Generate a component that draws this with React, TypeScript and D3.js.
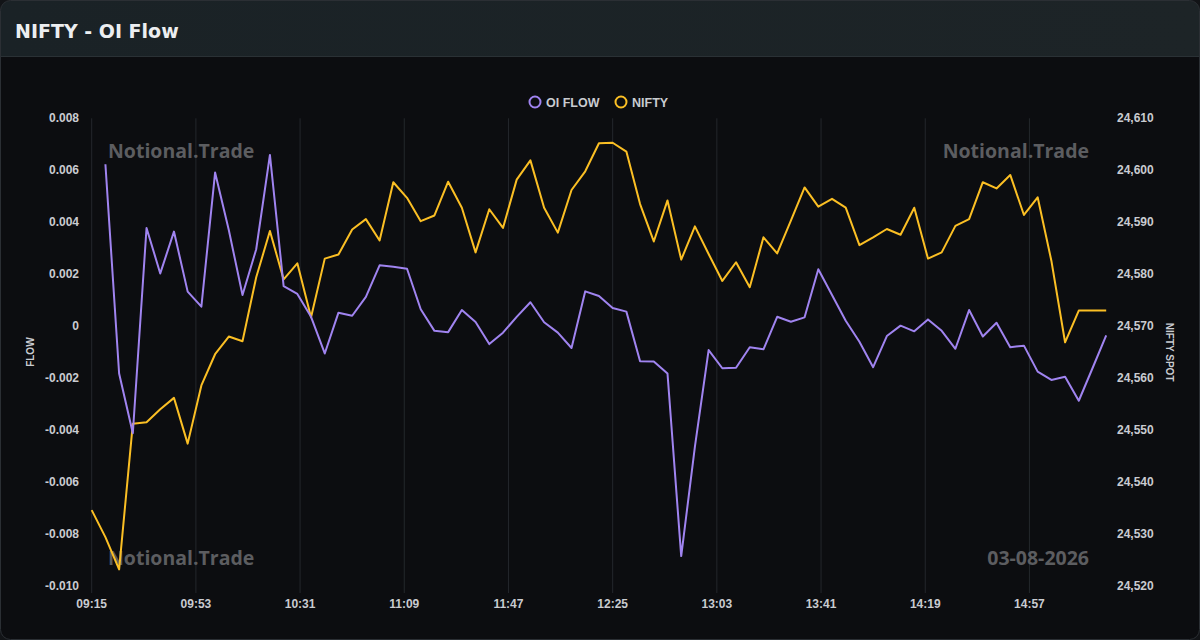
import React from "react";
import * as d3 from "d3";

const times = [
  "09:15","09:20","09:25","09:30","09:35","09:40","09:45","09:50","09:55","10:00",
  "10:05","10:10","10:15","10:20","10:25","10:30","10:35","10:40","10:45","10:50",
  "10:55","11:00","11:05","11:10","11:15","11:20","11:25","11:30","11:35","11:40",
  "11:45","11:50","11:55","12:00","12:05","12:10","12:15","12:20","12:25","12:30",
  "12:35","12:40","12:45","12:50","12:55","13:00","13:05","13:10","13:15","13:20",
  "13:25","13:30","13:35","13:40","13:45","13:50","13:55","14:00","14:05","14:10",
  "14:15","14:20","14:25","14:30","14:35","14:40","14:45","14:50","14:55","15:00",
  "15:05","15:10","15:15","15:20","15:25",
];

const oiFlow: (number | null)[] = [
  null, 0.00623, -0.00182, -0.00412, 0.00378, 0.00203, 0.00364, 0.00133, 0.00075, 0.00591,
  0.0037, 0.0012, 0.00296, 0.00659, 0.00154, 0.00124, 0.00036, -0.00105, 0.00052, 0.0004,
  0.00113, 0.00234, 0.00229, 0.00221, 0.00065, -0.00018, -0.00023, 0.00062, 0.00016, -0.00069,
  -0.00025, 0.00036, 0.00092, 0.00015, -0.00025, -0.00084, 0.00134, 0.00116, 0.0007, 0.00056,
  -0.00135, -0.00136, -0.00182, -0.00885, -0.00464, -0.00092, -0.00162, -0.0016, -0.00081, -0.00089,
  0.00036, 0.00017, 0.00034, 0.00219, 0.0012, 0.00021, -0.0006, -0.00158, -0.00038, 0.00002,
  -0.0002, 0.00026, -0.00018, -0.00087, 0.00062, -0.0004, 0.00013, -0.00081, -0.00075, -0.00175,
  -0.00207, -0.00195, -0.00287, -0.00162, -0.00035,
];

const nifty: number[] = [
  24534.6, 24529.4, 24523.2, 24551.2, 24551.5, 24554.0, 24556.2, 24547.4, 24558.6, 24564.6,
  24568.0, 24567.1, 24579.4, 24588.3, 24579.0, 24582.1, 24571.7, 24583.0, 24583.8, 24588.6,
  24590.6, 24586.5, 24597.7, 24594.7, 24590.2, 24591.3, 24597.8, 24592.8, 24584.2, 24592.5,
  24588.9, 24598.2, 24601.9, 24592.8, 24588.0, 24596.2, 24599.8, 24605.2, 24605.3, 24603.6,
  24593.5, 24586.3, 24594.2, 24582.8, 24589.2, 24583.9, 24578.7, 24582.3, 24577.5, 24587.1,
  24584.0, 24590.3, 24596.7, 24593.0, 24594.5, 24592.8, 24585.6, 24587.1, 24588.7, 24587.6,
  24592.8, 24583.0, 24584.2, 24589.3, 24590.6, 24597.7, 24596.5, 24599.1, 24591.4, 24594.8,
  24582.6, 24566.9, 24573.0, 24573.0, 24573.0,
];

const xTickLabels = ["09:15","09:53","10:31","11:09","11:47","12:25","13:03","13:41","14:19","14:57"];
const leftTicks = [0.008, 0.006, 0.004, 0.002, 0, -0.002, -0.004, -0.006, -0.008, -0.01];
const rightTicks = [24610, 24600, 24590, 24580, 24570, 24560, 24550, 24540, 24530, 24520];

const toMin = (s: string) => {
  const [h, m] = s.split(":").map(Number);
  return h * 60 + m;
};

const W = 1200;
const H = 640;
const PL = 91.7;
const PR = 1106.2;
const PT = 118.3;
const PB = 586;

const PURPLE = "#a084f0";
const YELLOW = "#fbbf24";
const TICK = "#c9cbd0";
const UI = "'Liberation Sans', Arial, Helvetica, sans-serif";
const TITLE_FONT = "'DejaVu Sans', sans-serif";
const WM_FONT = "'Open Sans', 'Noto Sans', sans-serif";

export default function App() {
  const t0 = toMin(times[0]);
  const x = d3
    .scaleLinear()
    .domain([0, toMin(times[times.length - 1]) - t0])
    .range([PL, PR]);
  const yL = d3.scaleLinear().domain([-0.01, 0.008]).range([PB, PT]);
  const yR = d3.scaleLinear().domain([24520, 24610]).range([PB, PT]);

  const flowLine = d3
    .line<number | null>()
    .defined((d) => d !== null)
    .x((_, i) => x(toMin(times[i]) - t0))
    .y((d) => yL(d as number));
  const niftyLine = d3
    .line<number>()
    .x((_, i) => x(toMin(times[i]) - t0))
    .y((d) => yR(d));

  const fmtL = (v: number) => (v === 0 ? "0" : d3.format(".3f")(v).replace("−", "-"));
  const fmtR = d3.format(",");

  return (
    <div style={{ position: "fixed", left: 0, top: 0, width: W, height: H, background: "#121417" }}>
      <svg width={W} height={H} style={{ display: "block" }}>
        <defs>
          <linearGradient id="hdr" x1="0" x2="1" y1="0" y2="0">
            <stop offset="0" stopColor="#1a2226" />
            <stop offset="1" stopColor="#1d2427" />
          </linearGradient>
          <clipPath id="card">
            <rect x={0.5} y={0.5} width={W - 1} height={H - 1} rx={10} />
          </clipPath>
        </defs>
        <g clipPath="url(#card)">
          <rect x={0} y={0} width={W} height={H} fill="#0c0d10" />
          <rect x={0} y={0} width={W} height={56} fill="url(#hdr)" />
          <line x1={0} x2={W} y1={56.5} y2={56.5} stroke="#2a3135" />
        </g>
        <rect x={0.5} y={0.5} width={W - 1} height={H - 1} rx={10} fill="none" stroke="#2b2f34" />
        <text x={15} y={37.5} fill="#eceef0" fontFamily={TITLE_FONT} fontWeight={700} fontSize={19}>
          NIFTY - OI Flow
        </text>

        {/* grid */}
        {xTickLabels.map((l) => {
          const xx = x(toMin(l) - t0);
          return (
            <g key={l}>
              <line x1={xx} x2={xx} y1={PT} y2={PB + 7} stroke="#24272c" strokeWidth={1} />
              <text x={xx} y={608} textAnchor="middle" fill={TICK} fontFamily={UI} fontWeight={700} fontSize={12}>
                {l}
              </text>
            </g>
          );
        })}

        {leftTicks.map((v) => (
          <text key={v} x={79} y={yL(v) + 4} textAnchor="end" fill={TICK} fontFamily={UI} fontWeight={700} fontSize={12}>
            {fmtL(v)}
          </text>
        ))}
        {rightTicks.map((v) => (
          <text key={v} x={1117} y={yR(v) + 4} textAnchor="start" fill={TICK} fontFamily={UI} fontWeight={700} fontSize={12}>
            {fmtR(v)}
          </text>
        ))}

        <text
          transform={`translate(33.5,${(PT + PB) / 2}) rotate(-90)`}
          textAnchor="middle"
          fill={TICK}
          fontFamily={UI}
          fontWeight={700}
          fontSize={10}
        >
          FLOW
        </text>
        <text
          transform={`translate(1166,${(PT + PB) / 2}) rotate(90)`}
          textAnchor="middle"
          fill={TICK}
          fontFamily={UI}
          fontWeight={700}
          fontSize={10}
        >
          NIFTY SPOT
        </text>

        {/* watermarks */}
        <g fill="#5c5d60" fontFamily={WM_FONT} fontWeight={700} fontSize={19.5}>
          <text x={108} y={158}>Notional.Trade</text>
          <text x={1089} y={158} textAnchor="end">Notional.Trade</text>
          <text x={108} y={565}>Notional.Trade</text>
          <text x={1089} y={565} textAnchor="end">03-08-2026</text>
        </g>

        {/* legend */}
        <circle cx={535} cy={102} r={5.5} fill="none" stroke={PURPLE} strokeWidth={2} />
        <text x={546} y={106.5} fill={TICK} fontFamily={UI} fontWeight={700} fontSize={12.5}>
          OI FLOW
        </text>
        <circle cx={621} cy={102} r={5.5} fill="none" stroke={YELLOW} strokeWidth={2} />
        <text x={632} y={106.5} fill={TICK} fontFamily={UI} fontWeight={700} fontSize={12.5}>
          NIFTY
        </text>

        {/* series */}
        <path d={niftyLine(nifty) || ""} fill="none" stroke={YELLOW} strokeWidth={2} strokeLinejoin="round" />
        <path d={flowLine(oiFlow) || ""} fill="none" stroke={PURPLE} strokeWidth={2} strokeLinejoin="round" />
      </svg>
    </div>
  );
}
